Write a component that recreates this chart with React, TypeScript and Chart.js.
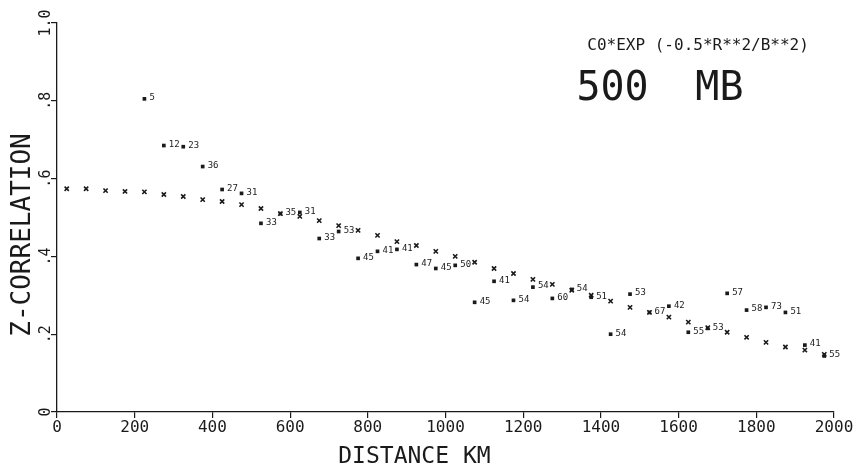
import React, { useEffect, useRef } from "react";
import { Chart, registerables } from "chart.js";

Chart.register(...registerables);

// Observed mean Z-correlation per 50 km distance bin (km)
const binDistances = [
  225, 275, 325, 375, 425, 475, 525, 575, 625, 675, 725, 775, 825, 875, 925, 975,
  1025, 1075, 1125, 1175, 1225, 1275, 1325, 1375, 1425, 1475, 1525, 1575, 1625,
  1675, 1725, 1775, 1825, 1875, 1925, 1975,
];
const observedCorr = [
  0.805, 0.685, 0.682, 0.631, 0.572, 0.562, 0.485, 0.51, 0.513, 0.446, 0.464,
  0.395, 0.413, 0.418, 0.379, 0.369, 0.377, 0.282, 0.336, 0.287, 0.321, 0.292,
  0.315, 0.295, 0.2, 0.303, 0.256, 0.272, 0.205, 0.215, 0.305, 0.262, 0.269,
  0.256, 0.172, 0.144,
];
const pairCounts = [
  5, 12, 23, 36, 27, 31, 33, 35, 31, 33, 53, 45, 41, 41, 47, 45, 50, 45, 41, 54,
  54, 60, 54, 51, 54, 53, 67, 42, 55, 53, 57, 58, 73, 51, 41, 55,
];

// Fitted curve C0*EXP(-0.5*R**2/B**2), read at 50 km steps
const fitDistances = [
  25, 75, 125, 175, 225, 275, 325, 375, 425, 475, 525, 575, 625, 675, 725, 775,
  825, 875, 925, 975, 1025, 1075, 1125, 1175, 1225, 1275, 1325, 1375, 1425, 1475,
  1525, 1575, 1625, 1675, 1725, 1775, 1825, 1875, 1925, 1975,
];
const fitCorr = [
  0.574, 0.574, 0.569, 0.567, 0.566, 0.559, 0.554, 0.546, 0.541, 0.533, 0.523,
  0.51, 0.503, 0.492, 0.479, 0.467, 0.454, 0.438, 0.428, 0.413, 0.4, 0.385,
  0.369, 0.356, 0.341, 0.328, 0.313, 0.3, 0.285, 0.269, 0.256, 0.244, 0.231,
  0.217, 0.205, 0.192, 0.179, 0.167, 0.159, 0.148,
];

const xTickStep = 200;
const yTickStep = 0.2;
const xTitle = "DISTANCE KM";
const yTitle = "Z-CORRELATION";
const formulaText = "C0*EXP (-0.5*R**2/B**2)";
const levelText = "500";
const unitText = "MB";

const INK = "#1a1a1a";
const MONO = "'DejaVu Sans Mono', 'Liberation Mono', monospace";

const fmtY = (v: number) => {
  if (Math.abs(v) < 1e-9) return "0";
  if (Math.abs(v - 1) < 1e-9) return "1.0";
  return "." + Math.round(v * 10);
};

const annotate = {
  id: "annotate",
  afterDraw(chart: any) {
    const ctx = chart.ctx;
    const xs = chart.scales.x;
    const ys = chart.scales.y;
    ctx.save();
    ctx.fillStyle = INK;

    // counts next to observed points
    const meta = chart.getDatasetMeta(0);
    ctx.font = `9px ${MONO}`;
    ctx.textAlign = "left";
    ctx.textBaseline = "middle";
    meta.data.forEach((pt: any, i: number) => {
      ctx.fillText(String(pairCounts[i]), pt.x + 5, pt.y - 1);
    });

    // y tick labels, rotated
    ctx.font = `15px ${MONO}`;
    ctx.textAlign = "center";
    ctx.textBaseline = "alphabetic";
    ys.ticks.forEach((t: any) => {
      const py = ys.getPixelForValue(t.value);
      ctx.save();
      ctx.translate(50, py);
      ctx.rotate(-Math.PI / 2);
      ctx.fillText(fmtY(t.value), 0, 0);
      ctx.restore();
    });

    // axis titles
    ctx.font = `23px ${MONO}`;
    ctx.textAlign = "center";
    ctx.textBaseline = "alphabetic";
    ctx.fillText(xTitle, xs.getPixelForValue(920), 463);

    ctx.save();
    ctx.font = `26px ${MONO}`;
    ctx.translate(30, ys.getPixelForValue(0.455));
    ctx.rotate(-Math.PI / 2);
    ctx.fillText(yTitle, 0, 0);
    ctx.restore();

    // annotations top-right
    ctx.textAlign = "left";
    ctx.font = `16px ${MONO}`;
    ctx.fillText(formulaText, xs.getPixelForValue(1365), ys.getPixelForValue(0.93));
    ctx.font = `40px ${MONO}`;
    ctx.fillText(levelText, xs.getPixelForValue(1337), ys.getPixelForValue(0.803));
    ctx.fillText(unitText, xs.getPixelForValue(1643), ys.getPixelForValue(0.803));
    ctx.restore();
  },
};

export default function App() {
  const ref = useRef<HTMLCanvasElement | null>(null);

  useEffect(() => {
    if (!ref.current) return;
    const chart = new Chart(ref.current, {
      type: "scatter",
      data: {
        datasets: [
          {
            label: "observed",
            data: binDistances.map((d, i) => ({ x: d, y: observedCorr[i] })),
            pointStyle: "rect",
            pointRadius: 2.6,
            pointBackgroundColor: INK,
            pointBorderColor: INK,
            pointBorderWidth: 0,
            showLine: false,
          },
          {
            label: "fit",
            data: fitDistances.map((d, i) => ({ x: d, y: fitCorr[i] })),
            pointStyle: "crossRot",
            pointRadius: 3,
            pointBorderColor: INK,
            pointBackgroundColor: INK,
            pointBorderWidth: 1.6,
            showLine: false,
          },
        ],
      },
      options: {
        responsive: false,
        animation: false,
        events: [],
        layout: { padding: { top: 23, right: 27, left: 0, bottom: 0 } },
        plugins: {
          legend: { display: false },
          tooltip: { enabled: false },
          title: { display: false },
        },
        scales: {
          x: {
            type: "linear",
            min: 0,
            max: 2000,
            afterFit: (s: any) => {
              s.height = 56;
            },
            border: { display: true, color: INK, width: 1.3 },
            grid: {
              display: true,
              drawOnChartArea: false,
              drawTicks: true,
              tickLength: 6,
              color: INK,
              lineWidth: 1.2,
            },
            ticks: {
              stepSize: xTickStep,
              padding: 0,
              color: INK,
              font: { family: MONO, size: 16 },
              maxRotation: 0,
              callback: (v: any) => String(v),
            },
            title: { display: false },
          },
          y: {
            type: "linear",
            min: 0,
            max: 1,
            afterFit: (s: any) => {
              s.width = 57;
            },
            border: { display: true, color: INK, width: 1.3 },
            grid: {
              display: true,
              drawOnChartArea: false,
              drawTicks: true,
              tickLength: 6,
              color: INK,
              lineWidth: 1.2,
            },
            ticks: {
              stepSize: yTickStep,
              display: false,
            },
            title: { display: false },
          },
        },
      },
      plugins: [annotate],
    });
    return () => chart.destroy();
  }, []);

  return (
    <div
      style={{
        position: "fixed",
        left: 0,
        top: 0,
        width: 861,
        height: 468,
        background: "#fff",
      }}
    >
      <canvas ref={ref} width={861} height={468} style={{ display: "block" }} />
    </div>
  );
}
